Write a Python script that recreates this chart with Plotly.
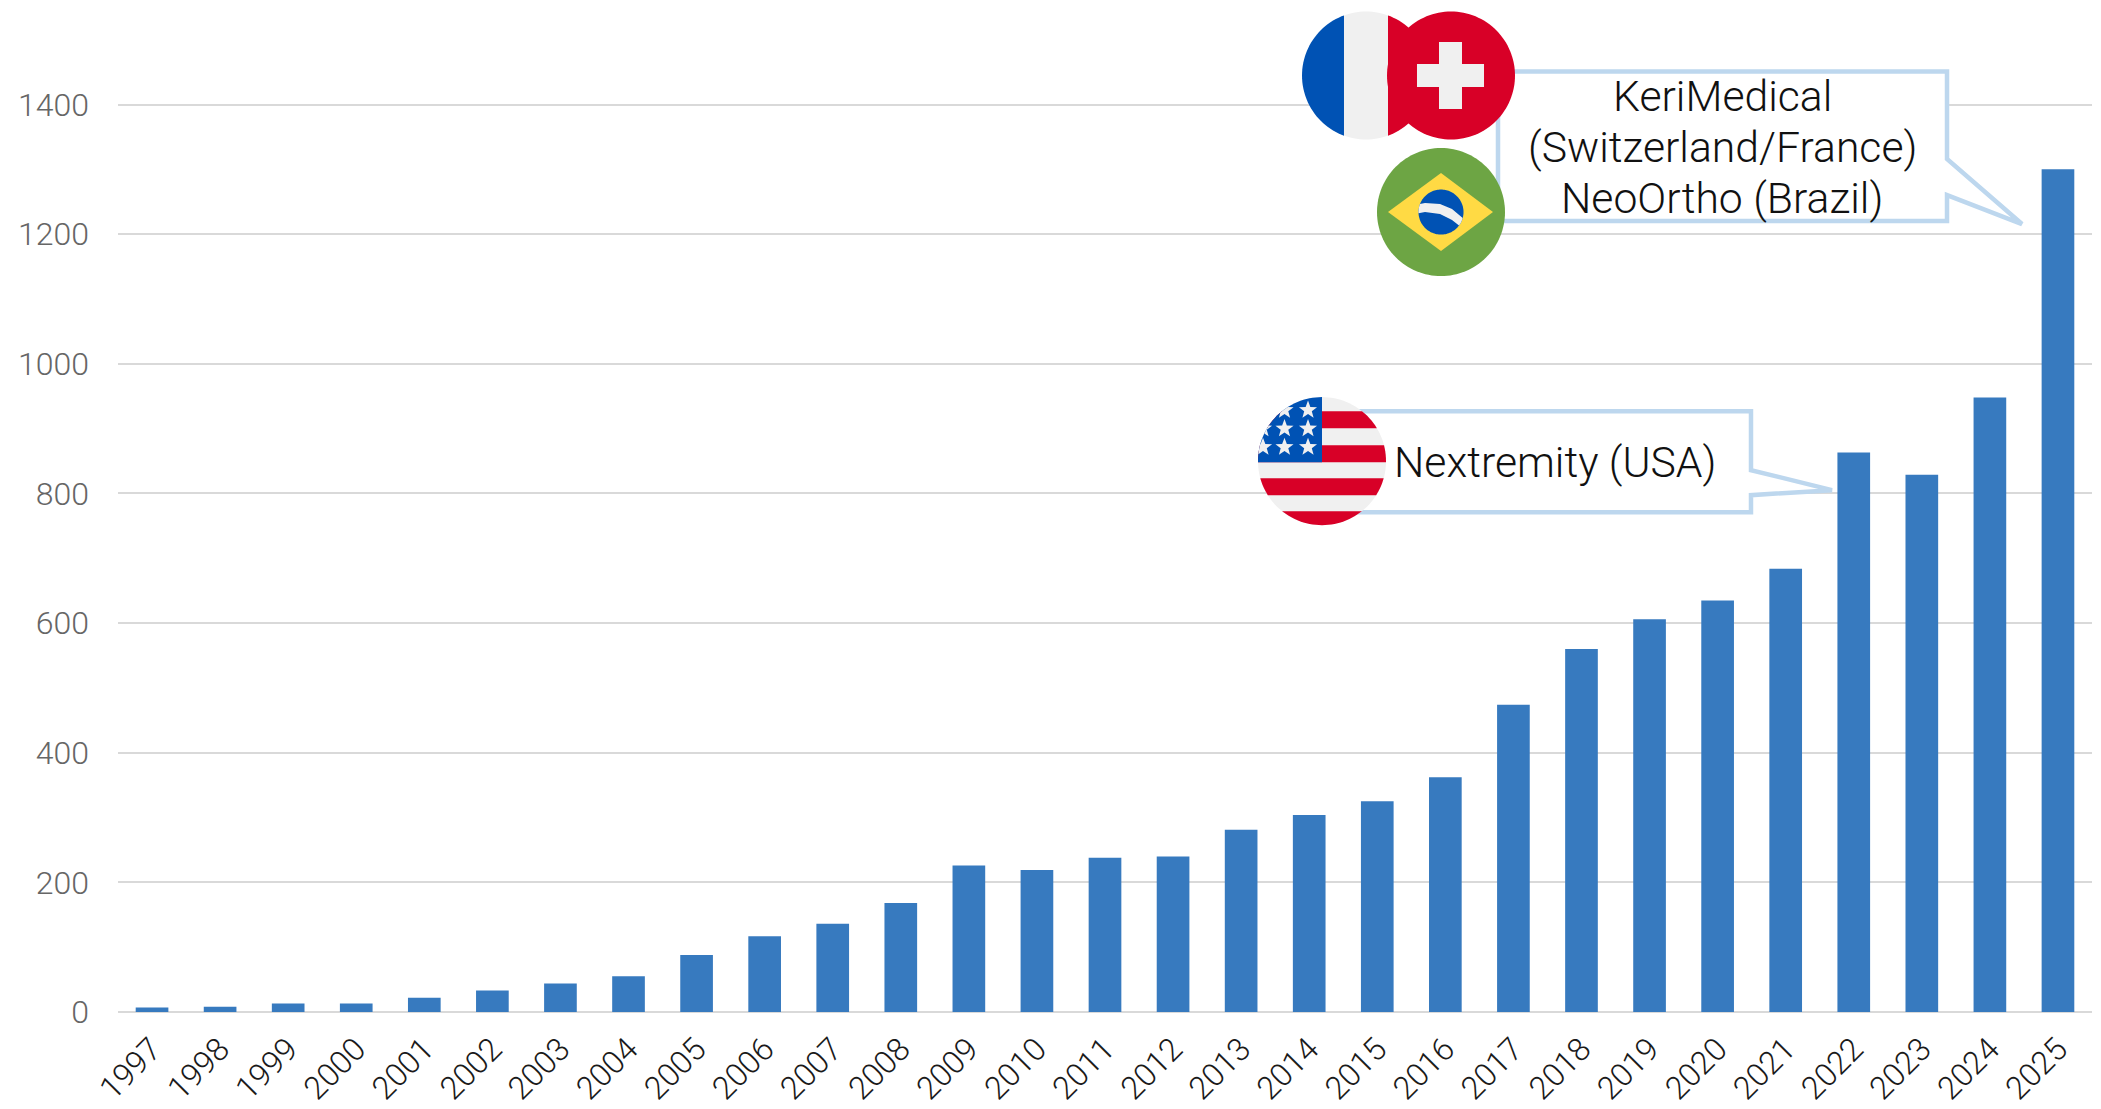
import math
import plotly.graph_objects as go

years = [str(y) for y in range(1997, 2026)]
values = [7, 8, 13, 13, 22, 33, 44, 55, 88, 117, 136, 168, 226, 219, 238, 240,
          281, 304, 325, 362, 474, 560, 606, 635, 684, 863, 829, 948, 1300]
y_ticks = [0, 200, 400, 600, 800, 1000, 1200, 1400]
callout_keri = ["KeriMedical", "(Switzerland/France)", "NeoOrtho (Brazil)"]
callout_next = "Nextremity (USA)"

W, H = 2101, 1109
L, R, B = 118, 2092, 1011.7
BLUE, WHITE, RED, GREEN, YELLOW = "#0052B4", "#F0F0F0", "#D80027", "#6DA544", "#FFDA44"
EDGE = "#BDD7EE"


def px(x):
    return (x - L) / (R - L)


def py(y):
    return (B - y) / B


def path(points):
    return "M " + " L ".join(f"{px(x):.5f},{py(y):.5f}" for x, y in points) + " Z"


def circle(cx, cy, r, n=128):
    return [(cx + r * math.cos(2 * math.pi * i / n), cy + r * math.sin(2 * math.pi * i / n)) for i in range(n)]


def clip(subject, clipper):
    """Sutherland-Hodgman clip by a convex polygon."""
    area = sum(clipper[i][0] * clipper[(i + 1) % len(clipper)][1] - clipper[(i + 1) % len(clipper)][0] * clipper[i][1]
               for i in range(len(clipper)))
    sign = 1 if area > 0 else -1
    out = subject
    for i in range(len(clipper)):
        a, b = clipper[i], clipper[(i + 1) % len(clipper)]
        side = lambda p: sign * ((b[0] - a[0]) * (p[1] - a[1]) - (b[1] - a[1]) * (p[0] - a[0]))
        inp, out = out, []
        for j in range(len(inp)):
            p, q = inp[j], inp[(j + 1) % len(inp)]
            sp, sq = side(p), side(q)
            if sp >= 0:
                out.append(p)
            if sp * sq < 0:
                t = sp / (sp - sq)
                out.append((p[0] + t * (q[0] - p[0]), p[1] + t * (q[1] - p[1])))
        if not out:
            return []
    return out


def rect(x0, y0, x1, y1):
    return [(x0, y0), (x1, y0), (x1, y1), (x0, y1)]


def star(cx, cy, r):
    pts = []
    for i in range(10):
        a = -math.pi / 2 + i * math.pi / 5
        rr = r if i % 2 == 0 else r * 0.42
        pts.append((cx + rr * math.cos(a), cy + rr * math.sin(a)))
    return pts


shapes = []


def poly(points, fill, line=None, lw=0):
    shapes.append(dict(type="path", path=path(points), xref="paper", yref="paper", layer="above",
                       fillcolor=fill, line=dict(color=line or fill, width=lw)))


# callouts
poly([(1498, 71.5), (1947, 71.5), (1947, 159), (2022, 224), (1947, 195), (1947, 221), (1498, 221)], "#FFFFFF", EDGE, 4.5)
poly([(1322, 411), (1751, 411), (1751, 470), (1832, 490), (1751, 495), (1751, 512), (1322, 512)], "#FFFFFF", EDGE, 4.5)

# France
c = circle(1366, 75.5, 64)
poly(clip(rect(1290, 0, 1344, 160), c), BLUE)
poly(clip(rect(1344, 0, 1388, 160), c), WHITE)
poly(clip(rect(1388, 0, 1440, 160), c), RED)

# Switzerland
poly(circle(1451, 75.5, 64), RED)
poly(rect(1417, 64, 1484, 87), WHITE)
poly(rect(1439, 42, 1462, 109), WHITE)

# Brazil
poly(circle(1441, 212, 64), GREEN)
poly([(1441, 173), (1493, 212), (1441, 251), (1388, 212)], YELLOW)
bc = circle(1441, 212, 22.5)
poly(bc, BLUE)
poly(clip([(1410, 206), (1425, 203), (1440, 204), (1452, 209), (1470, 224),
           (1470, 234), (1452, 220), (1440, 214), (1425, 212), (1410, 215)], bc), WHITE)

# USA
c = circle(1322, 461, 64)
poly(c, WHITE)
for y0, y1 in [(411, 428), (445, 462), (478, 495), (511, 530)]:
    poly(clip(rect(1250, y0, 1395, y1), c), RED)
poly(clip(rect(1250, 390, 1322, 462), c), BLUE)
for x, y in [(1308, 410), (1284.5, 410), (1308, 428.5), (1284.5, 428.5), (1263, 428.5),
             (1308, 447), (1284.5, 447), (1263, 447)]:
    sp = clip(star(x, y, 9.5), c)
    if sp:
        poly(sp, WHITE)

fig = go.Figure(go.Bar(x=years, y=values, marker=dict(color="#377ABF", line=dict(width=0)), hoverinfo="x+y"))

font_family = "Roboto"
label_font = dict(family=font_family, size=42.7, color="#111111", weight=300)
annotations = [
    dict(text=t, xref="paper", yref="paper", x=px(1722), y=py(yy), xanchor="center", yanchor="middle",
         showarrow=False, font=label_font)
    for t, yy in zip(callout_keri, [95.5, 147, 198])
]
annotations.append(dict(text=callout_next, xref="paper", yref="paper", x=px(1555), y=py(462), xanchor="center",
                        yanchor="middle", showarrow=False, font=label_font))

fig.update_layout(
    width=W, height=H, showlegend=False, bargap=0.52,
    margin=dict(l=L, r=W - R, t=0, b=H - B, pad=0),
    paper_bgcolor="#FFFFFF", plot_bgcolor="#FFFFFF",
    font=dict(family=font_family, weight=300),
    shapes=shapes,
    xaxis=dict(type="category", tickangle=-45, showgrid=False, ticks="", showline=False, zeroline=False,
               ticklabelstandoff=11,
               tickfont=dict(family=font_family, size=32, color="#1A1A1A", weight=300)),
    yaxis=dict(range=[0, B / 0.648], tickvals=y_ticks, gridcolor="#D9D9D9", gridwidth=2,
               zeroline=True, zerolinecolor="#D9D9D9", zerolinewidth=2, showline=False, ticks="",
               ticklabelstandoff=28,
               tickfont=dict(family=font_family, size=32, color="#666666", weight=300)),
    annotations=annotations,
)
fig.write_html("out.html", config={"displayModeBar": False}, post_script="document.body.style.margin='0';")
